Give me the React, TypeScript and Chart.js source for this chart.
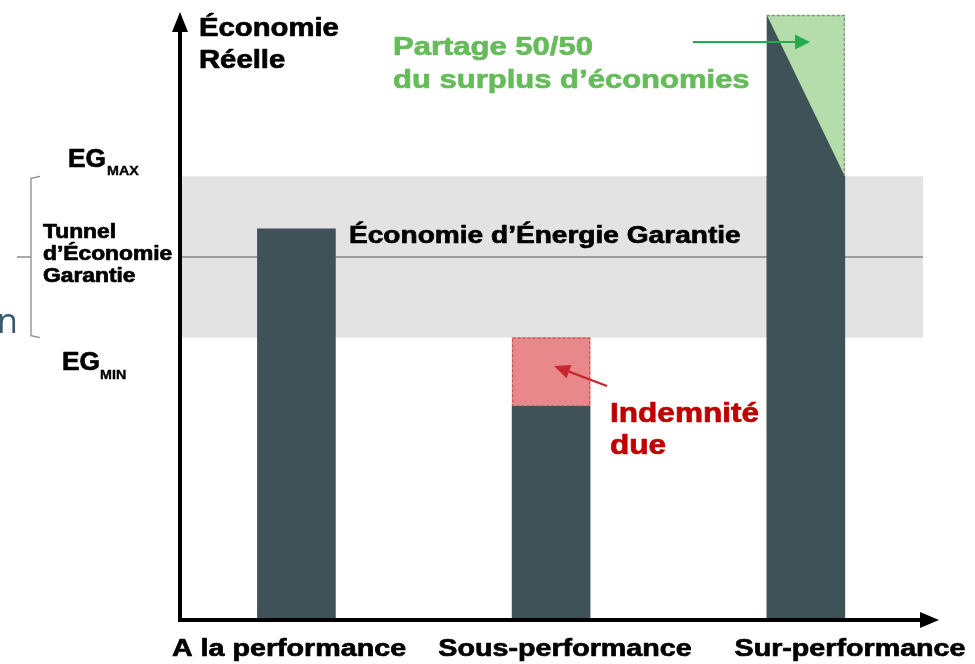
import React, { useEffect, useRef } from "react";
import { Chart, registerables } from "chart.js";

Chart.register(...registerables);

// ---- data ----
const categories = ["A la performance", "Sous-performance", "Sur-performance"];
const realSavings = [97, 53, 110]; // solid part of each bar
const penaltyTop = [null, 70, null]; // indemnité due (up to EG min)
const surplusTop = [null, null, 150]; // surplus d'économies
const EG_MIN = 70;
const EG_MID = 90;
const EG_MAX = 110;
const Y_MAX = 150;

const FONT = '"Liberation Sans", Arial, sans-serif';
const SX = 1.17;

function txt(ctx: CanvasRenderingContext2D, s: string, x: number, y: number, size: number, color: string, align: CanvasTextAlign = "left", weight = "bold", family = FONT, sx = SX) {
  ctx.save();
  ctx.translate(x, y);
  ctx.scale(sx, 1);
  ctx.font = `${weight} ${size}px ${family}`;
  ctx.fillStyle = color;
  ctx.textAlign = align;
  ctx.textBaseline = "alphabetic";
  ctx.fillText(s, 0, 0);
  if (weight === "bold") {
    ctx.strokeStyle = color;
    ctx.lineWidth = size > 16 ? 0.7 : 0.4;
    ctx.lineJoin = "round";
    ctx.strokeText(s, 0, 0);
  }
  ctx.restore();
}

function arrow(ctx: CanvasRenderingContext2D, x1: number, y1: number, x2: number, y2: number, color: string, lw: number, hl: number, hw: number) {
  const a = Math.atan2(y2 - y1, x2 - x1);
  const bx = x2 - hl * Math.cos(a);
  const by = y2 - hl * Math.sin(a);
  ctx.save();
  ctx.strokeStyle = color;
  ctx.fillStyle = color;
  ctx.lineWidth = lw;
  ctx.beginPath();
  ctx.moveTo(x1, y1);
  ctx.lineTo(bx, by);
  ctx.stroke();
  ctx.beginPath();
  ctx.moveTo(x2, y2);
  ctx.lineTo(bx + (hw / 2) * Math.sin(a), by - (hw / 2) * Math.cos(a));
  ctx.lineTo(bx - (hw / 2) * Math.sin(a), by + (hw / 2) * Math.cos(a));
  ctx.closePath();
  ctx.fill();
  ctx.restore();
}

const diagramPlugin = {
  id: "diagram",
  beforeDatasetsDraw(chart: any) {
    const ctx = chart.ctx as CanvasRenderingContext2D;
    const { left } = chart.chartArea;
    const xs = chart.scales.x;
    const ys = chart.scales.y;
    const bandRight = xs.getPixelForValue(3.46);
    const yTop = ys.getPixelForValue(EG_MAX);
    const yBot = ys.getPixelForValue(EG_MIN);
    const yMid = ys.getPixelForValue(EG_MID);
    ctx.save();
    ctx.fillStyle = "#e3e3e3";
    ctx.fillRect(left, yTop, bandRight - left, yBot - yTop);
    ctx.strokeStyle = "#9c9c9c";
    ctx.lineWidth = 2;
    ctx.beginPath();
    ctx.moveTo(left, yMid);
    ctx.lineTo(bandRight, yMid);
    ctx.stroke();
    // bracket
    ctx.strokeStyle = "#8c8c8c";
    ctx.lineWidth = 1.3;
    ctx.beginPath();
    ctx.moveTo(40, yTop);
    ctx.lineTo(31, yTop + 2);
    ctx.lineTo(31, yBot - 2);
    ctx.lineTo(40, yBot);
    ctx.moveTo(17, yMid);
    ctx.lineTo(31, yMid);
    ctx.stroke();
    ctx.restore();
    txt(ctx, "Économie d’Énergie Garantie", 349, 243, 24, "#000000");
  },
  afterDatasetsDraw(chart: any) {
    const ctx = chart.ctx as CanvasRenderingContext2D;
    const { left, right, bottom, top } = chart.chartArea;
    const ys = chart.scales.y;

    // surplus triangle
    const sEl = chart.getDatasetMeta(2).data[0];
    if (sEl) {
      const l = sEl.x - sEl.width / 2;
      const r = sEl.x + sEl.width / 2;
      const yT = ys.getPixelForValue(Y_MAX);
      const yB = ys.getPixelForValue(EG_MAX);
      ctx.save();
      ctx.fillStyle = "#3e5257";
      ctx.beginPath();
      ctx.moveTo(l, yT);
      ctx.lineTo(r, yB);
      ctx.lineTo(l, yB);
      ctx.closePath();
      ctx.fill();
      ctx.strokeStyle = "#8e8e8e";
      ctx.lineWidth = 1.3;
      ctx.setLineDash([3, 2]);
      ctx.beginPath();
      ctx.moveTo(l, yT + 0.5);
      ctx.lineTo(r - 0.5, yT + 0.5);
      ctx.lineTo(r - 0.5, yB);
      ctx.stroke();
      ctx.restore();
    }
    // penalty outline
    const pEl = chart.getDatasetMeta(1).data[0];
    if (pEl) {
      const l = pEl.x - pEl.width / 2;
      const r = pEl.x + pEl.width / 2;
      ctx.save();
      ctx.strokeStyle = "#c4565a";
      ctx.lineWidth = 1.2;
      ctx.setLineDash([3, 2]);
      ctx.strokeRect(l + 0.5, pEl.y + 0.5, r - l - 1, pEl.base - pEl.y - 1);
      ctx.restore();
    }

    // axes
    const xEnd = right + 2;
    ctx.save();
    ctx.strokeStyle = "#000";
    ctx.lineWidth = 4;
    ctx.beginPath();
    ctx.moveTo(left, bottom + 2);
    ctx.lineTo(left, top + 14);
    ctx.moveTo(left - 2, bottom);
    ctx.lineTo(xEnd - 16, bottom);
    ctx.stroke();
    ctx.fillStyle = "#000";
    ctx.beginPath();
    ctx.moveTo(left, top - 3);
    ctx.lineTo(left - 8, top + 17);
    ctx.lineTo(left + 8, top + 17);
    ctx.closePath();
    ctx.fill();
    ctx.beginPath();
    ctx.moveTo(xEnd, bottom);
    ctx.lineTo(xEnd - 19, bottom - 8);
    ctx.lineTo(xEnd - 19, bottom + 8);
    ctx.closePath();
    ctx.fill();
    ctx.restore();

    // arrows
    arrow(ctx, 693, 42, 810, 42, "#22ad4c", 2, 15, 15);
    arrow(ctx, 607, 386, 554, 366, "#c8262c", 2.2, 16, 14);

    // texts
    txt(ctx, "Économie", 199, 36, 25, "#000");
    txt(ctx, "Réelle", 199, 68, 25, "#000");
    txt(ctx, "Partage 50/50", 393, 55, 26.5, "#66bb5a");
    txt(ctx, "du surplus d’économies", 393, 88, 26.5, "#66bb5a");
    txt(ctx, "Indemnité", 610, 422, 27, "#c00000");
    txt(ctx, "due", 610, 454, 27, "#c00000");

    txt(ctx, "EG", 68, 167, 25, "#000", "left", "bold", FONT, 1.05);
    txt(ctx, "MAX", 107, 175, 13, "#000", "left", "bold", FONT, 1.1);
    txt(ctx, "EG", 62, 370, 25, "#000", "left", "bold", FONT, 1.05);
    txt(ctx, "MIN", 100, 379, 13, "#000", "left", "bold", FONT, 1.1);
    txt(ctx, "Tunnel", 43, 238, 19.5, "#000");
    txt(ctx, "d’Économie", 43, 260, 19.5, "#000");
    txt(ctx, "Garantie", 43, 282, 19.5, "#000");
    txt(ctx, "n", -3, 333, 34, "#3b5a6b", "left", "normal", '"Open Sans", sans-serif', 1);

    const labelX = [289, 565, 850];
    categories.forEach((c, i) => txt(ctx, c, labelX[i], 656, 24.5, "#000", "center"));
  },
};

export default function App() {
  const ref = useRef<HTMLCanvasElement | null>(null);
  useEffect(() => {
    if (!ref.current) return;
    const chart = new Chart(ref.current, {
      type: "bar",
      data: {
        datasets: [
          {
            label: "Économie réelle",
            data: categories.map((_, i) => ({ x: i + 1, y: [0, realSavings[i]] })) as any,
            backgroundColor: "#3e5257",
            borderWidth: 0,
            barThickness: 78,
            grouped: false,
          } as any,
          {
            label: "Indemnité due",
            data: penaltyTop
              .map((v, i) => (v == null ? null : { x: i + 1, y: [realSavings[i], v] }))
              .filter(Boolean) as any,
            backgroundColor: "#e8888b",
            borderWidth: 0,
            barThickness: 78,
            grouped: false,
          } as any,
          {
            label: "Surplus",
            data: surplusTop
              .map((v, i) => (v == null ? null : { x: i + 1, y: [realSavings[i], v] }))
              .filter(Boolean) as any,
            backgroundColor: "#b5dcab",
            borderWidth: 0,
            barThickness: 78,
            grouped: false,
          } as any,
        ],
      },
      options: {
        animation: false,
        responsive: true,
        maintainAspectRatio: false,
        layout: { padding: { left: 180, right: 38, top: 15, bottom: 44 } },
        plugins: { legend: { display: false }, tooltip: { enabled: false } },
        scales: {
          x: { type: "linear", min: 0.543, max: 3.515, offset: false, display: false },
          y: { type: "linear", min: 0, max: Y_MAX, display: false },
        },
      },
      plugins: [diagramPlugin],
    });
    return () => chart.destroy();
  }, []);
  return (
    <div style={{ position: "fixed", left: 0, top: 0, width: 975, height: 664, background: "#fff" }}>
      <canvas ref={ref} />
    </div>
  );
}
